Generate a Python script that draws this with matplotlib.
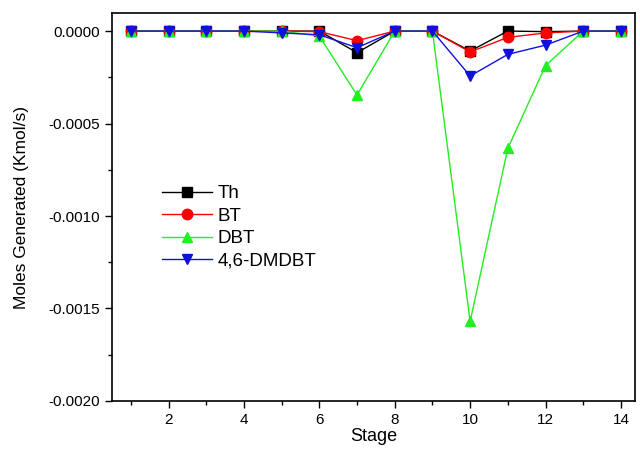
import matplotlib
matplotlib.use("Agg")
import matplotlib.pyplot as plt
from matplotlib.ticker import MultipleLocator, FormatStrFormatter

plt.rcParams['font.family'] = ['Liberation Sans', 'DejaVu Sans']
plt.rcParams['axes.unicode_minus'] = False

stages = [1, 2, 3, 4, 5, 6, 7, 8, 9, 10, 11, 12, 13, 14]
th = [0, 0, 0, 0, 0, 0, -0.000117, 0, 0, -0.000108, 0, -0.000003, 0, 0]
bt = [0, 0, 0, 0, 0, -0.000003, -0.000052, 0, 0, -0.000113, -0.000034, -0.00001, 0, 0]
dbt = [0, 0, 0, 0, 0, -0.000027, -0.000346, 0, 0, -0.00157, -0.000634, -0.000187, 0, 0]
dmdbt = [0, 0, 0, 0, -0.00001, -0.00002, -0.00009, 0, 0, -0.000243, -0.000126, -0.000076, 0, 0]

fig = plt.figure(figsize=(6.4, 4.51), dpi=100)
ax = fig.add_axes([0.175, 0.111, 0.817, 0.86])

ax.plot(stages, th, color='black', marker='s', markersize=6.5, lw=1, label='Th')
ax.plot(stages, bt, color='red', marker='o', markersize=7.5, lw=1, label='BT')
ax.plot(stages, dbt, color='#22ee22', marker='^', markersize=7.5, lw=1, label='DBT')
ax.plot(stages, dmdbt, color='#1010dd', marker='v', markersize=7.5, lw=1, label='4,6-DMDBT')

ax.set_xlim(0.5, 14.37)
ax.set_ylim(-0.0020, 0.0000973)
ax.xaxis.set_major_locator(MultipleLocator(2))
ax.xaxis.set_minor_locator(MultipleLocator(1))
ax.yaxis.set_major_locator(MultipleLocator(0.0005))
ax.yaxis.set_minor_locator(MultipleLocator(0.00025))
ax.yaxis.set_major_formatter(FormatStrFormatter('%.4f'))
ax.tick_params(which='major', direction='out', length=5, width=1, labelsize=11)
ax.tick_params(which='minor', direction='out', length=3, width=1)
ax.tick_params(top=False, right=False)
for s in ax.spines.values():
    s.set_linewidth(1.2)

ax.set_xlabel('Stage', fontsize=13, labelpad=1)
ax.set_ylabel('Moles Generated (Kmol/s)', fontsize=12.5, labelpad=14)

ax.legend(loc='upper left', bbox_to_anchor=(0.07, 0.59), frameon=False,
          fontsize=13.5, handlelength=2.7, labelspacing=0.28, handletextpad=0.3,
          borderpad=0.2)

fig.savefig('out.png', dpi=100)
